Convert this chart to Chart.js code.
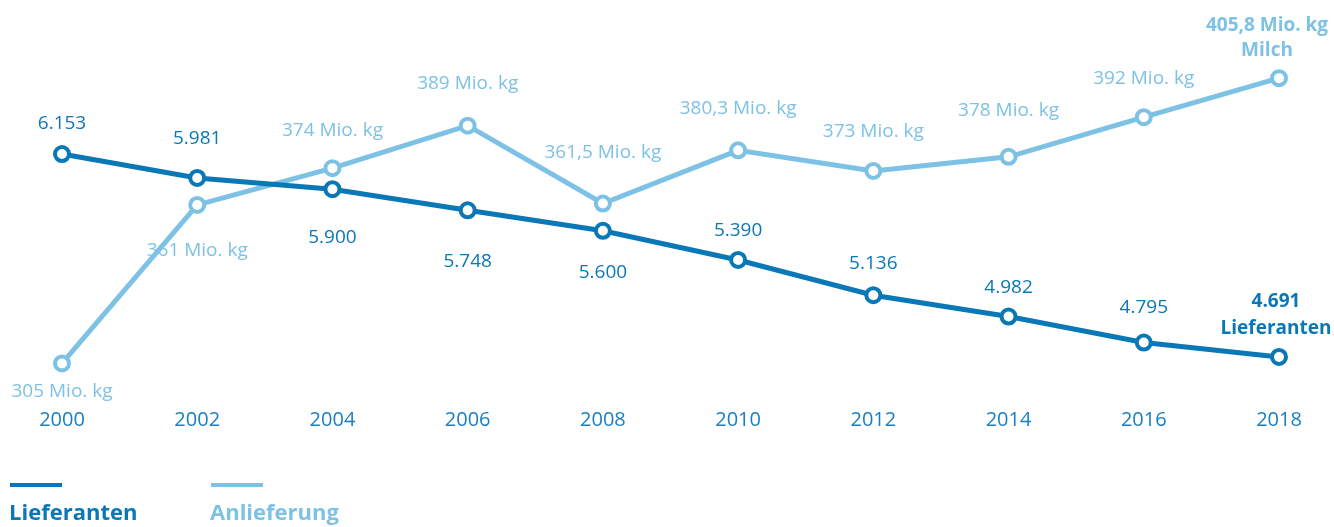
<!DOCTYPE html>
<html><head><meta charset="utf-8">
<script src="https://cdn.jsdelivr.net/npm/chart.js@4"></script>
<style>html,body{margin:0;padding:0;background:#fff;}#wrap{width:1334px;height:527px;position:relative;}</style>
</head><body><div id="wrap"><canvas id="c" width="1334" height="527"></canvas></div>
<script>
const years = ['2000','2002','2004','2006','2008','2010','2012','2014','2016','2018'];
const lieferanten = [6153, 5981, 5900, 5748, 5600, 5390, 5136, 4982, 4795, 4691];
const anlieferung = [305, 361, 374, 389, 361.5, 380.3, 373, 378, 392, 405.8];
const lieferantenLabels = ['6.153','5.981','5.900','5.748','5.600','5.390','5.136','4.982','4.795','4.691'];
const anlieferungLabels = ['305 Mio. kg','361 Mio. kg','374 Mio. kg','389 Mio. kg','361,5 Mio. kg','380,3 Mio. kg','373 Mio. kg','378 Mio. kg','392 Mio. kg','405,8 Mio. kg'];

const DARK = '#0a77b7';
const LIGHT = '#7dc2e5';
const FONT = "'Open Sans', sans-serif";

// vertical label offsets in px relative to the point (negative = above)
const labelOffsets = {
  0: [-30, -39, 48, 51, 42, -29, -32, -29, -35, 0],
  1: [28, 46, -38, -42, -51, -42, -39, -46, -39, 0]
};

const labelPlugin = {
  id: 'pointLabels',
  afterDatasetsDraw(chart) {
    const ctx = chart.ctx;
    ctx.save();
    ctx.textAlign = 'center';
    ctx.textBaseline = 'middle';
    chart.data.datasets.forEach((ds, di) => {
      const meta = chart.getDatasetMeta(di);
      const texts = di === 0 ? lieferantenLabels : anlieferungLabels;
      meta.data.forEach((pt, i) => {
        const last = i === texts.length - 1;
        ctx.fillStyle = di === 0 ? DARK : LIGHT;
        if (last) {
          ctx.font = "bold 19px " + FONT;
          const second = di === 0 ? 'Lieferanten' : 'Milch';
          const dx = di === 0 ? -3 : -12;
          const d1 = di === 0 ? -55 : -53;
          ctx.fillText(texts[i], pt.x + dx, pt.y + d1);
          ctx.fillText(second, pt.x + dx, pt.y - 28);
        } else {
          ctx.font = "19px " + FONT;
          ctx.fillText(texts[i], pt.x, pt.y + labelOffsets[di][i]);
        }
      });
    });
    // legend
    ctx.lineWidth = 4;
    ctx.strokeStyle = DARK;
    ctx.beginPath(); ctx.moveTo(10, 485); ctx.lineTo(62, 485); ctx.stroke();
    ctx.strokeStyle = LIGHT;
    ctx.beginPath(); ctx.moveTo(211, 485); ctx.lineTo(263, 485); ctx.stroke();
    ctx.textAlign = 'left';
    ctx.textBaseline = 'alphabetic';
    ctx.font = "bold 22px " + FONT;
    ctx.fillStyle = DARK; ctx.fillText('Lieferanten', 9, 520);
    ctx.fillStyle = LIGHT; ctx.fillText('Anlieferung', 210, 520);
    ctx.restore();
  }
};

new Chart(document.getElementById('c'), {
  type: 'line',
  data: {
    labels: years,
    datasets: [
      { label: 'Lieferanten', data: lieferanten, yAxisID: 'y', borderColor: DARK, borderWidth: 5,
        pointRadius: 7, pointBorderWidth: 4, pointBackgroundColor: '#fff', pointBorderColor: DARK, tension: 0 },
      { label: 'Anlieferung', data: anlieferung, yAxisID: 'y2', borderColor: LIGHT, borderWidth: 5,
        pointRadius: 7, pointBorderWidth: 4, pointBackgroundColor: '#fff', pointBorderColor: LIGHT, tension: 0 }
    ]
  },
  options: {
    responsive: false,
    animation: false,
    layout: { autoPadding: false, padding: { left: 62, right: 55, top: 0, bottom: 87 } },
    plugins: { legend: { display: false }, tooltip: { enabled: false } },
    scales: {
      x: { offset: false, grid: { display: false, drawTicks: false }, border: { display: false },
           ticks: { color: '#1a7fc0', font: { family: FONT, size: 20 }, padding: 8 } },
      y: { display: false, min: 4381, max: 7263 },
      y2: { display: false, min: 292.1, max: 433.4 }
    }
  },
  plugins: [labelPlugin]
});
</script>
</body></html>
